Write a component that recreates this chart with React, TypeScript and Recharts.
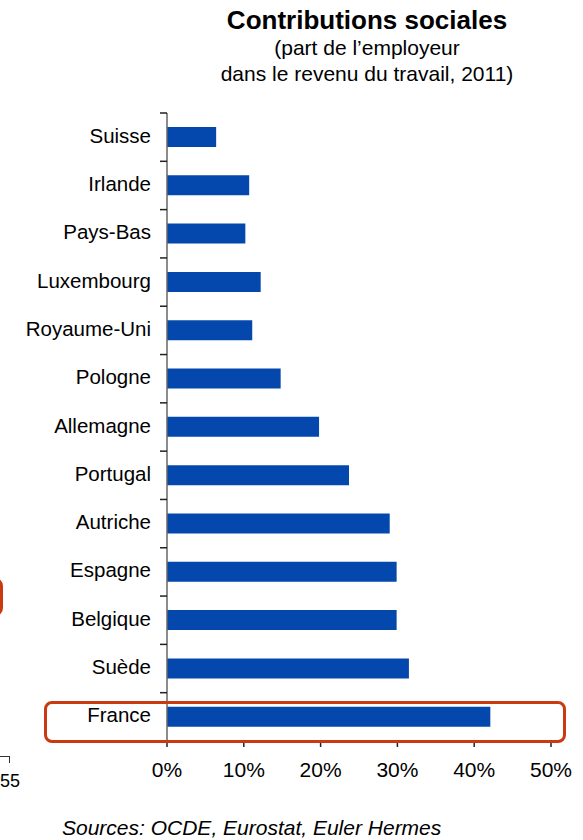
import { BarChart, Bar, XAxis, YAxis } from "recharts";

const countries = [
  "Suisse",
  "Irlande",
  "Pays-Bas",
  "Luxembourg",
  "Royaume-Uni",
  "Pologne",
  "Allemagne",
  "Portugal",
  "Autriche",
  "Espagne",
  "Belgique",
  "Suède",
  "France",
];
const shares = [6.4, 10.7, 10.2, 12.2, 11.1, 14.8, 19.8, 23.7, 29.0, 29.9, 29.9, 31.5, 42.1];
const xTicks = [0, 10, 20, 30, 40, 50];

const data = countries.map((c, i) => ({ country: c, value: shares[i] }));

const W = 583;
const H = 840;
const TOP = 113;
const BOTTOM = 39;
const XAXIS_H = 60;
const bandSize = (H - TOP - BOTTOM - XAXIS_H) / countries.length;
const FONT = "'Liberation Sans', Arial, sans-serif";
const ORANGE = "#c93a10";

const CountryTick = (props: any) => {
  const { x, y, payload } = props;
  return (
    <g>
      <line x1={x + 8} x2={x + 15} y1={y - bandSize / 2} y2={y - bandSize / 2} stroke="#222" strokeWidth={1.5} />
      <text
        x={x - 1}
        y={y - 2}
        textAnchor="end"
        dominantBaseline="central"
        fontSize={20.5}
        fontFamily={FONT}
        fill="#000"
      >
        {payload.value}
      </text>
    </g>
  );
};

export default function App() {
  return (
    <div style={{ position: "absolute", left: 0, top: 0, width: W, height: H, background: "#fff", fontFamily: FONT, overflow: "hidden" }}>
      {/* titre */}
      <div style={{ position: "absolute", left: 117, width: 500, top: 5, textAlign: "center", fontSize: 26, lineHeight: "30px", fontWeight: "bold", color: "#000" }}>
        Contributions sociales
      </div>
      <div style={{ position: "absolute", left: 117, width: 500, top: 35, textAlign: "center", fontSize: 21, lineHeight: "26px", color: "#000" }}>
        (part de l’employeur
        <br />
        dans le revenu du travail, 2011)
      </div>

      <BarChart
        width={W}
        height={H}
        data={data}
        layout="vertical"
        margin={{ top: TOP, right: 32, bottom: BOTTOM, left: 7 }}
        style={{ position: "absolute", left: 0, top: 0 }}
      >
        <XAxis
          type="number"
          domain={[0, 50]}
          ticks={xTicks}
          tickFormatter={(v) => `${v}%`}
          axisLine={{ stroke: "#000", strokeWidth: 1.5 }}
          tickLine={{ stroke: "#222", strokeWidth: 1.5 }}
          tickSize={6}
          tickMargin={15}
          tick={{ fontSize: 21, fill: "#000", fontFamily: FONT }}
          height={XAXIS_H}
        />
        <YAxis
          type="category"
          dataKey="country"
          width={160}
          axisLine={{ stroke: "#666", strokeWidth: 1.5 }}
          tickLine={false}
          tickMargin={9}
          tick={<CountryTick />}
          interval={0}
        />
        <Bar dataKey="value" fill="#0448ad" barSize={20} isAnimationActive={false} />
      </BarChart>

      {/* encadré France */}
      <div
        style={{
          position: "absolute",
          left: 44,
          top: 701,
          width: 522,
          height: 42,
          border: `3px solid ${ORANGE}`,
          borderRadius: 8,
          boxSizing: "border-box",
        }}
      />
      {/* restes à gauche */}
      <div
        style={{
          position: "absolute",
          left: -100,
          top: 578,
          width: 103,
          height: 38,
          border: `3px solid ${ORANGE}`,
          borderRadius: 8,
          boxSizing: "border-box",
        }}
      />
      <div style={{ position: "absolute", left: 0, top: 756, width: 9, height: 6, borderTop: "1.5px solid #333", borderRight: "1.5px solid #333" }} />
      <div style={{ position: "absolute", left: 0, top: 771, fontSize: 18, color: "#000" }}>55</div>

      <div style={{ position: "absolute", left: 62, top: 816, fontSize: 21, fontStyle: "italic", color: "#000" }}>
        Sources: OCDE, Eurostat, Euler Hermes
      </div>
    </div>
  );
}
